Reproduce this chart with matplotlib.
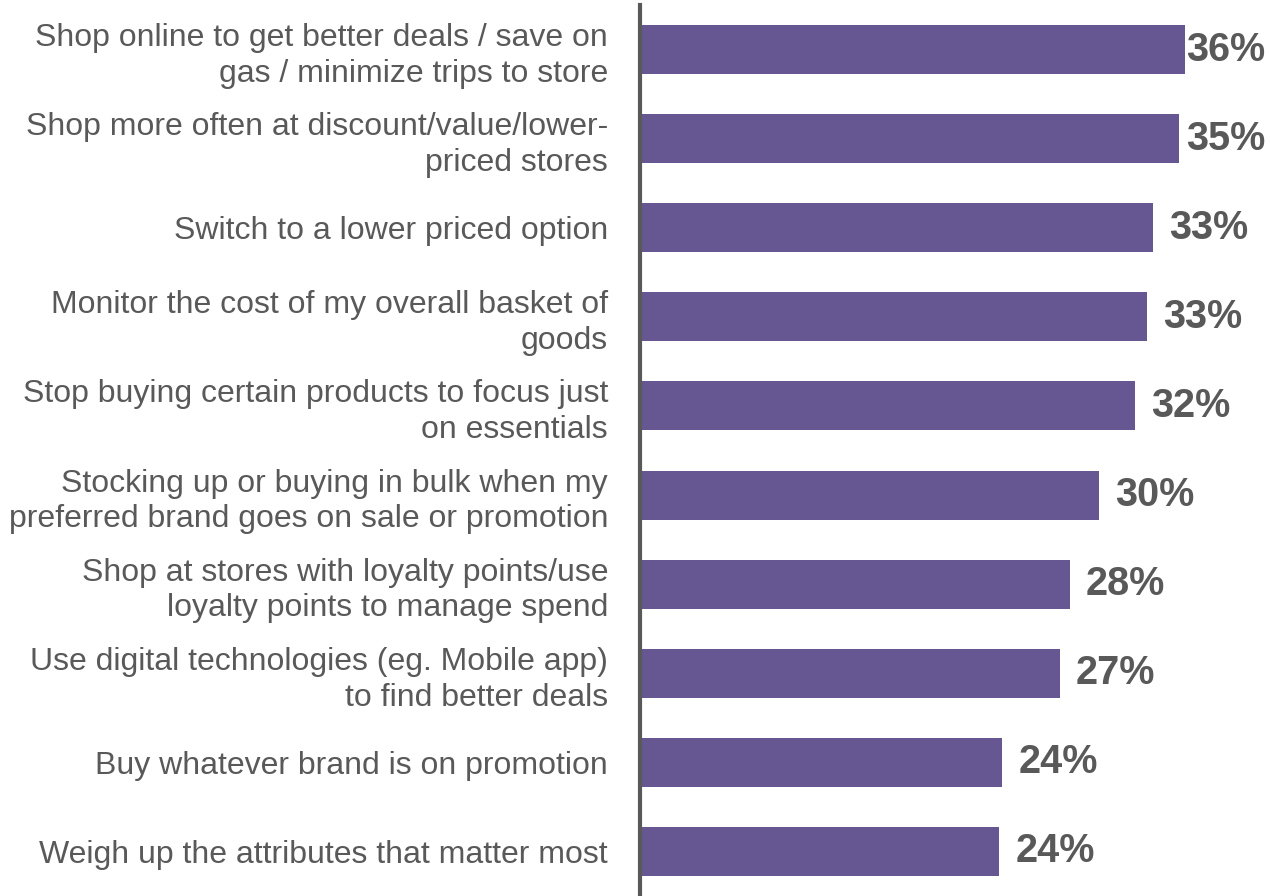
import matplotlib
matplotlib.use('Agg')
import matplotlib.pyplot as plt

plt.rcParams['font.family'] = ['Liberation Sans', 'DejaVu Sans']

categories = [
    'Shop online to get better deals / save on\ngas / minimize trips to store',
    'Shop more often at discount/value/lower-\npriced stores',
    'Switch to a lower priced option',
    'Monitor the cost of my overall basket of\ngoods',
    'Stop buying certain products to focus just\non essentials',
    'Stocking up or buying in bulk when my\npreferred brand goes on sale or promotion',
    'Shop at stores with loyalty points/use\nloyalty points to manage spend',
    'Use digital technologies (eg. Mobile app)\nto find better deals',
    'Buy whatever brand is on promotion',
    'Weigh up the attributes that matter most',
]
values = [36.0, 35.6, 33.9, 33.5, 32.7, 30.3, 28.4, 27.7, 23.9, 23.7]
value_labels = ['36%', '35%', '33%', '33%', '32%', '30%', '28%', '27%', '24%', '24%']

bar_color = '#665792'
grey = '#595959'

fig = plt.figure(figsize=(12.7, 8.96), dpi=100)
ax = fig.add_axes([640 / 1270, 0, 630 / 1270, 891 / 896])

y = list(range(len(categories)))
ax.barh(y, values, height=0.55, color=bar_color, left=0.13)
ax.set_ylim(len(categories) - 0.5, -0.5)
ax.set_xlim(0, 630 / 15.08)

# value labels sit just right of the bar, but never past the right edge
for yi, v, lab in zip(y, values, value_labels):
    x = min(v + 0.13 + 1.05, 36.2)
    ax.text(x, yi, lab, ha='left', va='center', fontsize=28.5, fontweight='bold', color=grey)

ax.set_yticks(y)
ax.set_yticklabels(categories, fontsize=23, color=grey, ha='right', linespacing=1.25)
ax.tick_params(axis='y', length=0, pad=23)
ax.set_xticks([])

for s in ['top', 'right', 'bottom']:
    ax.spines[s].set_visible(False)
ax.spines['left'].set_color(grey)
ax.spines['left'].set_linewidth(3)

plt.savefig('out.png', dpi=100)
plt.close()
